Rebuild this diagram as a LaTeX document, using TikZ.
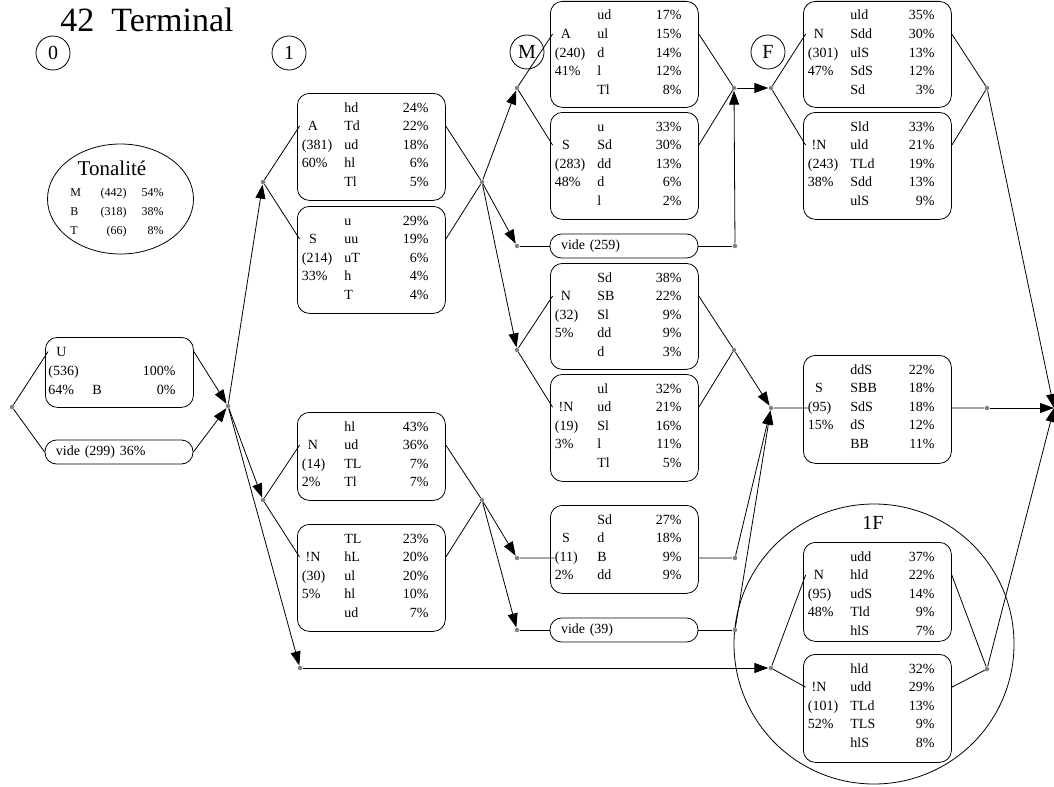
\documentclass[tikz,border=0pt]{standalone}
\usepackage{fontspec}
\setmainfont{Liberation Serif}
\usetikzlibrary{arrows.meta,shapes.geometric}

\newcommand{\policeboite}{\fontsize{14bp}{16bp}\selectfont}
\newcommand{\policerond}{\fontsize{20bp}{22bp}\selectfont}
\newcommand{\policetonal}{\fontsize{12bp}{14bp}\selectfont}

% un tableau: nom, x gauche, y haut, hauteur, etiquette, effectif, pourcentage, lignes
\newcommand{\tableau}[8]{%
  \node[boite, minimum height=#4bp, anchor=north west] (#1) at (#2,#3) {};
  \node[etiq] (#1-l) at (#2+16,#3+19+18.65) {#5};
  \node[champ] (#1-n) at (#2+4.5,#3+19+2*18.65) {#6};
  \node[champ] at (#2+4.5,#3+19+3*18.65) {#7};
  \foreach \c/\p [count=\i from 0] in {#8} {
    \node[champ] at (#2+47,#3+19+\i*18.65) {\c};
    \node[champd] at (#2+132,#3+19+\i*18.65) {\p\%};
  }
}

\begin{document}
\begin{tikzpicture}[x=1bp, y=-1bp, >={Triangle[length=14bp,width=10bp]}, line width=0.8bp]
  \tikzset{
    boite/.style={draw, rounded corners=12bp, minimum width=148bp, inner sep=0pt},
    pilule/.style={draw, rounded corners=11.5bp, minimum height=24bp, text width=126bp, inner xsep=11bp, inner ysep=0pt, align=left, font=\policeboite},
    champ/.style={inner sep=0pt, anchor=base west, font=\policeboite},
    champd/.style={inner sep=0pt, anchor=base east, font=\policeboite},
    etiq/.style={inner sep=0pt, anchor=base, minimum width=26bp, font=\policeboite},
    point/.style={circle, fill=gray, inner sep=0pt, minimum size=4.5bp},
    rond/.style={draw, circle, minimum size=34bp, inner sep=0pt, font=\policerond}
  }
  \useasboundingbox (0,0) rectangle (1054,787);

  % titre et reperes
  \node[anchor=base west, inner sep=0pt, font=\fontsize{34bp}{36bp}\selectfont] (titre) at (60,32) {42\ \ Terminal};
  \node[rond] (r0) at (53,53) {0};
  \node[rond] (r1) at (289,53) {1};
  \node[rond] (rM) at (527,52) {M};
  \node[rond] (rF) at (768,52) {F};

  % tonalite
  \node[draw, ellipse, minimum width=146bp, minimum height=110bp] (tonal) at (120.5,199) {};
  \node[anchor=base, inner sep=0pt, font=\fontsize{21bp}{23bp}\selectfont] (tonaltitre) at (112,175) {Tonalité};
  \foreach \t/\n/\p [count=\i from 0] in {M/442/54,B/318/38,T/66/8} {
    \node[anchor=base west, inner sep=0pt, font=\policetonal] at (70,196+\i*19) {\t};
    \node[anchor=base east, inner sep=0pt, font=\policetonal] at (127,196+\i*19) {(\n)};
    \node[anchor=base east, inner sep=0pt, font=\policetonal] at (164,196+\i*19) {\p\%};
  }

  % groupe 1F
  \node[draw, circle, minimum size=280bp, inner sep=0pt] (cercle1F) at (874,644) {};
  \node[anchor=base, inner sep=0pt, font=\policerond] (titre1F) at (873,529) {1F};

  % colonne 0
  \node[boite, minimum height=70bp, anchor=north west] (U) at (45,337) {};
  \node[etiq] (U-l) at (61.5,356) {U};
  \node[champ] at (48,375) {(536)};
  \node[champd] at (176,375) {100\%};
  \node[champ] at (48,394) {64\%};
  \node[champ] at (92,394) {B};
  \node[champd] at (176,394) {0\%};
  \node[pilule] (v299) at (119,452) {vide (299) 36\%};

  % tableaux
  \tableau{A1}{297}{93}{107}{A}{(381)}{60\%}{hd/24,Td/22,ud/18,hl/6,Tl/5}
  \tableau{S1}{297}{206}{107}{S}{(214)}{33\%}{u/29,uu/19,uT/6,h/4,T/4}
  \tableau{N1}{297}{412}{88}{N}{(14)}{2\%}{hl/43,ud/36,TL/7,Tl/7}
  \tableau{nN1}{297}{524}{107}{!N}{(30)}{5\%}{TL/23,hL/20,ul/20,hl/10,ud/7}
  \tableau{A2}{550}{1}{106}{A}{(240)}{41\%}{ud/17,ul/15,d/14,l/12,Tl/8}
  \tableau{S2}{550}{112}{107}{S}{(283)}{48\%}{u/33,Sd/30,dd/13,d/6,l/2}
  \tableau{N2}{550}{263}{106}{N}{(32)}{5\%}{Sd/38,SB/22,Sl/9,dd/9,d/3}
  \tableau{nN2}{550}{374}{107}{!N}{(19)}{3\%}{ul/32,ud/21,Sl/16,l/11,Tl/5}
  \tableau{S4}{550}{505}{88}{S}{(11)}{2\%}{Sd/27,d/18,B/9,dd/9}
  \tableau{N3}{803}{1}{106}{N}{(301)}{47\%}{uld/35,Sdd/30,ulS/13,SdS/12,Sd/3}
  \tableau{nN3}{803}{112}{107}{!N}{(243)}{38\%}{Sld/33,uld/21,TLd/19,Sdd/13,ulS/9}
  \tableau{S5}{803}{355}{108}{S}{(95)}{15\%}{ddS/22,SBB/18,SdS/18,dS/12,BB/11}
  \tableau{N4}{803}{542}{99}{N}{(95)}{48\%}{udd/37,hld/22,udS/14,Tld/9,hlS/7}
  \tableau{nN4}{803}{654}{108}{!N}{(101)}{52\%}{hld/32,udd/29,TLd/13,TLS/9,hlS/8}
  \node[pilule] (v259) at (624,246) {vide (259)};
  \node[pilule] (v39) at (624,630) {vide (39)};

  % points de jonction
  \node[point] (p0) at (12,407) {};
  \node[point] (J1) at (228,406) {};
  \node[point] (pA1) at (263,182) {};
  \node[point] (pN1) at (263,500) {};
  \node[point] (p1F) at (300,668) {};
  \node[point] (J2) at (482,182) {};
  \node[point] (J3) at (482,500) {};
  \node[point] (pM) at (517,88) {};
  \node[point] (pv259) at (517,246) {};
  \node[point] (pN2) at (517,350) {};
  \node[point] (pS4) at (517,558) {};
  \node[point] (pv39) at (517,630) {};
  \node[point] (J4) at (734,88) {};
  \node[point] (qv259) at (735,246) {};
  \node[point] (J5) at (734,350) {};
  \node[point] (qS4) at (735,558) {};
  \node[point] (qv39) at (735,630) {};
  \node[point] (pF) at (771,88) {};
  \node[point] (pS5) at (771,408) {};
  \node[point] (p1Fin) at (771,668) {};
  \node[point] (J6) at (987,88) {};
  \node[point] (qS5) at (987,408) {};
  \node[point] (J7) at (987,669) {};
  \coordinate (fin) at (1054,408);

  % liaisons
  \draw (p0) -- (U-l.west);
  \draw (p0) -- (v299.west);
  \draw[->] (U.east |- U-l) -- (J1);
  \draw[->] (v299.east) -- (J1);
  \draw[->] (J1) -- (pA1);
  \draw[->] (J1) -- (pN1);
  \draw[->] (J1) -- (p1F);
  \draw (pA1) -- (A1-l.west);
  \draw (pA1) -- (S1-l.west);
  \draw (A1.east |- A1-l) -- (J2);
  \draw (S1.east |- S1-l) -- (J2);
  \draw (pN1) -- (N1-l.west);
  \draw (pN1) -- (nN1-l.west);
  \draw (N1.east |- N1-l) -- (J3);
  \draw (nN1.east |- nN1-l) -- (J3);
  \draw[->] (J2) -- (pM);
  \draw[->] (J2) -- (pv259);
  \draw[->] (J2) -- (pN2);
  \draw[->] (J3) -- (pS4);
  \draw[->] (J3) -- (pv39);
  \draw[->] (p1F) -- (p1Fin);
  \draw (pM) -- (A2-l.west);
  \draw (pM) -- (S2-l.west);
  \draw (A2.east |- A2-l) -- (J4);
  \draw (S2.east |- S2-l) -- (J4);
  \draw (pv259) -- (v259.west);
  \draw (v259.east) -- (qv259);
  \draw[->] (qv259) -- (J4);
  \draw[->] (J4) -- (pF);
  \draw (pN2) -- (N2-l.west);
  \draw (pN2) -- (nN2-l.west);
  \draw (N2.east |- N2-l) -- (J5);
  \draw (nN2.east |- nN2-l) -- (J5);
  \draw[->] (J5) -- (pS5);
  \draw (pS4) -- (S4-n.west);
  \draw (S4.east |- S4-n) -- (qS4);
  \draw[->] (qS4) -- (pS5);
  \draw (pv39) -- (v39.west);
  \draw (v39.east) -- (qv39);
  \draw[->] (qv39) -- (pS5);
  \draw (pF) -- (N3-l.west);
  \draw (pF) -- (nN3-l.west);
  \draw (N3.east |- N3-l) -- (J6);
  \draw (nN3.east |- nN3-l) -- (J6);
  \draw (pS5) -- (S5-n.west);
  \draw (S5.east |- S5-n) -- (qS5);
  \draw (p1Fin) -- (N4-l.west);
  \draw (p1Fin) -- (nN4-l.west);
  \draw (N4.east |- N4-l) -- (J7);
  \draw (nN4.east |- nN4-l) -- (J7);
  \draw[->] (J6) -- (fin);
  \draw[->] (qS5) -- (fin);
  \draw[->] (J7) -- (fin);
\end{tikzpicture}
\end{document}
